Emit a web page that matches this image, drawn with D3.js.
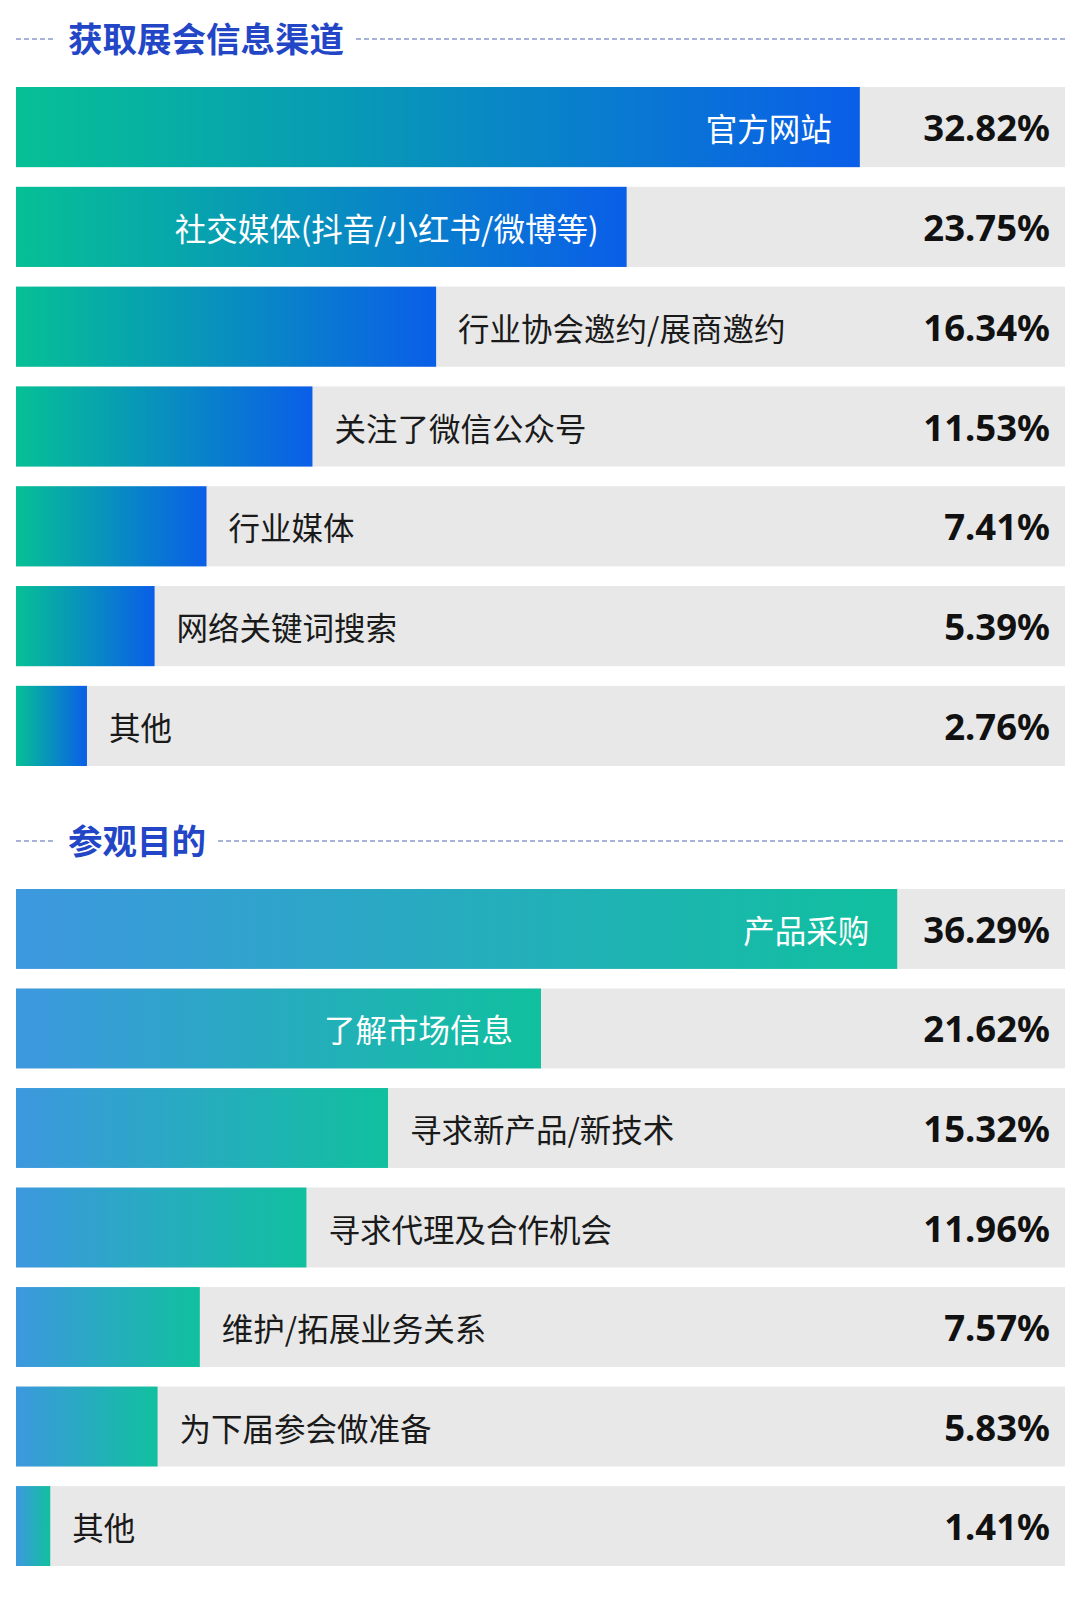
<!DOCTYPE html>
<html>
<head>
  <meta charset="utf-8">
  <script src="https://cdnjs.cloudflare.com/ajax/libs/d3/7.8.5/d3.min.js" type="text/javascript"></script>
  <style>
    body { margin: 0; background: #fff; }
    svg { display: block; }
  </style>
</head>
<body>
  <svg id="chart"></svg>
  <script>

// 获取展会信息渠道
var channelTitle = "获取展会信息渠道";
var channelNames = ["官方网站", "社交媒体(抖音/小红书/微博等)", "行业协会邀约/展商邀约", "关注了微信公众号", "行业媒体", "网络关键词搜索", "其他"];
var channelValues = [32.82, 23.75, 16.34, 11.53, 7.41, 5.39, 2.76];

// 参观目的
var purposeTitle = "参观目的";
var purposeNames = ["产品采购", "了解市场信息", "寻求新产品/新技术", "寻求代理及合作机会", "维护/拓展业务关系", "为下届参会做准备", "其他"];
var purposeValues = [36.29, 21.62, 15.32, 11.96, 7.57, 5.83, 1.41];

var width = 1080, height = 1604;
var left = 16, right = 1065;

var svg = d3.select("#chart")
    .attr("width", width)
    .attr("height", height);

var defs = svg.append("defs");

function makeGradient(id, from, to) {
  var g = defs.append("linearGradient")
      .attr("id", id)
      .attr("x1", "0%").attr("x2", "100%")
      .attr("y1", "0%").attr("y2", "0%");
  g.append("stop").attr("offset", "0%").attr("stop-color", from);
  g.append("stop").attr("offset", "100%").attr("stop-color", to);
}
makeGradient("grad1", "#06c095", "#0a5ee8");
makeGradient("grad2", "#3d98df", "#10c09e");

function drawSection(opts) {
  var g = svg.append("g");

  // title with dashed rule
  var titleY = opts.top - 50;
  var title = g.append("text")
      .attr("x", 68)
      .attr("y", titleY)
      .attr("dominant-baseline", "central")
      .style("font-family", "'Noto Sans CJK SC', sans-serif")
      .style("font-weight", 700)
      .style("font-size", "34.5px")
      .style("fill", "#2246c6")
      .text(opts.title);
  var tw = title.node().getComputedTextLength();

  g.append("line")
      .attr("x1", left).attr("x2", 56)
      .attr("y1", titleY + 2).attr("y2", titleY + 2)
      .attr("stroke", "#5066b0").attr("stroke-width", 1.2)
      .attr("stroke-dasharray", "5,3");
  g.append("line")
      .attr("x1", 68 + tw + 12).attr("x2", right)
      .attr("y1", titleY + 2).attr("y2", titleY + 2)
      .attr("stroke", "#5066b0").attr("stroke-width", 1.2)
      .attr("stroke-dasharray", "5,3");

  var y = d3.scaleBand()
      .domain(opts.names)
      .range([opts.top, opts.bottom])
      .paddingInner(0.197)
      .paddingOuter(0);

  var x = d3.scaleLinear()
      .domain([0, opts.max])
      .range([left, right]);

  var rows = g.selectAll(".row")
      .data(opts.names.map(function(n, i) { return { name: n, value: opts.values[i], i: i }; }))
      .enter().append("g")
      .attr("class", "row");

  rows.append("rect")
      .attr("x", left)
      .attr("y", function(d) { return y(d.name); })
      .attr("width", right - left)
      .attr("height", y.bandwidth())
      .attr("fill", "#e8e8e8");

  rows.append("rect")
      .attr("x", left)
      .attr("y", function(d) { return y(d.name); })
      .attr("width", function(d) { return x(d.value) - left; })
      .attr("height", y.bandwidth())
      .attr("fill", "url(#" + opts.grad + ")");

  rows.append("text")
      .attr("x", function(d) { return d.i < 2 ? x(d.value) - 28 : x(d.value) + 22; })
      .attr("y", function(d) { return y(d.name) + y.bandwidth() / 2; })
      .attr("text-anchor", function(d) { return d.i < 2 ? "end" : "start"; })
      .attr("dominant-baseline", "central")
      .style("font-family", "'Noto Sans CJK SC', sans-serif")
      .style("font-size", "31.5px")
      .style("fill", function(d) { return d.i < 2 ? "#ffffff" : "#1a1a1a"; })
      .text(function(d) { return d.name; });

  rows.append("text")
      .attr("x", 1050)
      .attr("y", function(d) { return y(d.name) + y.bandwidth() / 2; })
      .attr("text-anchor", "end")
      .attr("dominant-baseline", "central")
      .style("font-family", "'Noto Sans', sans-serif")
      .style("font-weight", 700)
      .style("font-size", "36.5px")
      .style("fill", "#111")
      .text(function(d) { return d.value.toFixed(2) + "%"; });
}

drawSection({ title: channelTitle, names: channelNames, values: channelValues,
              top: 87, bottom: 766, max: 40.8, grad: "grad1" });
drawSection({ title: purposeTitle, names: purposeNames, values: purposeValues,
              top: 889, bottom: 1566, max: 43.2, grad: "grad2" });

  </script>
</body>
</html>
